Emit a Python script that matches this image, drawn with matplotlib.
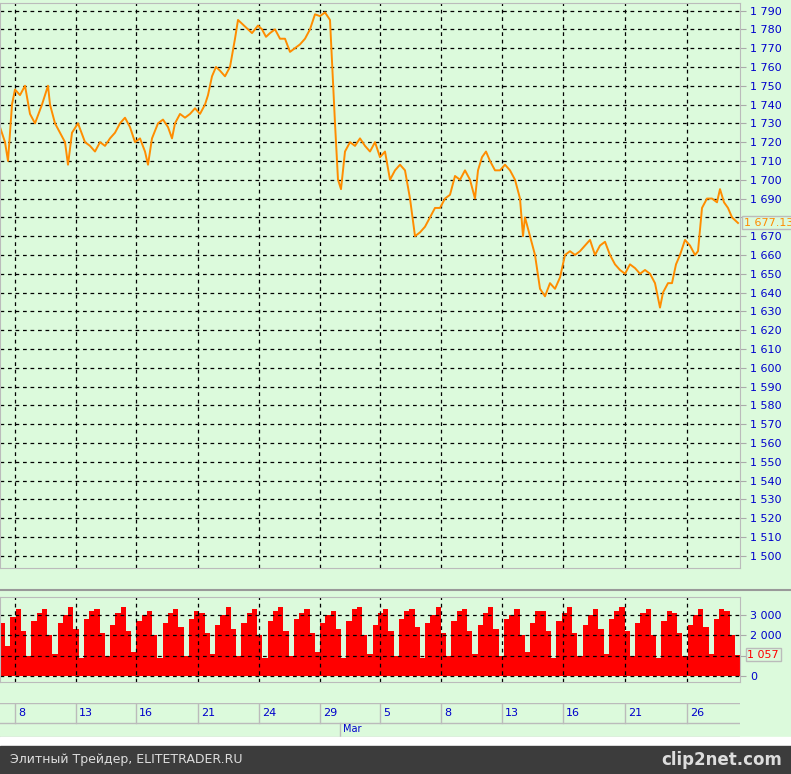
import matplotlib
matplotlib.use("Agg")
import matplotlib.pyplot as plt
import numpy as np

# price path (x in chart units, price)
px = [0,5,8,12,15,20,25,30,35,42,48,50,55,60,65,68,72,78,85,90,95,100,105,110,115,120,125,130,135,140,145,148,152,158,163,168,172,175,180,185,190,195,200,205,208,212,216,220,225,230,235,238,242,248,252,258,262,266,270,275,280,285,290,295,300,305,310,315,320,325,330,335,338,341,345,350,355,360,365,370,375,380,385,390,395,400,405,410,415,420,425,430,435,440,445,450,455,460,465,470,475,478,482,486,490,495,500,505,510,515,520,523,525,530,535,540,545,550,555,560,565,570,575,580,585,590,595,600,605,610,615,620,625,630,635,640,645,650,655,660,663,668,672,676,680,685,690,695,698,702,707,712,717,720,724,728,732,738]
py = [1728,1720,1710,1740,1748,1745,1750,1735,1730,1740,1750,1740,1730,1725,1720,1708,1725,1730,1720,1718,1715,1720,1718,1722,1725,1730,1733,1728,1720,1722,1715,1708,1722,1730,1732,1728,1722,1730,1735,1733,1735,1738,1735,1740,1745,1755,1760,1758,1755,1760,1775,1785,1783,1780,1778,1782,1780,1776,1778,1780,1775,1775,1768,1770,1772,1775,1780,1788,1787,1789,1785,1730,1700,1695,1715,1720,1718,1722,1718,1715,1720,1712,1715,1700,1705,1708,1705,1690,1670,1672,1675,1680,1685,1685,1690,1692,1702,1700,1705,1700,1690,1705,1712,1715,1710,1705,1705,1708,1705,1700,1690,1670,1680,1670,1660,1642,1638,1645,1642,1648,1660,1662,1660,1662,1665,1668,1660,1665,1667,1660,1655,1652,1650,1655,1653,1650,1652,1650,1645,1632,1640,1645,1645,1655,1660,1668,1665,1660,1662,1685,1690,1690,1688,1695,1688,1685,1680,1677]

# volume bars
vol = [2600,1500,2900,3300,2200,1000,2700,3100,3300,2000,1100,2600,3000,3400,2300,900,2800,3200,3300,2100,
       1000,2500,3100,3400,2200,1200,2700,3000,3200,2000,900,2600,3100,3300,2400,1000,2800,3200,3100,2100,
       1100,2500,3000,3400,2300,1000,2600,3100,3300,2000,900,2700,3200,3400,2200,1000,2800,3100,3300,2100,
       1200,2600,3000,3200,2300,900,2700,3300,3400,2000,1100,2500,3100,3300,2200,1000,2800,3200,3300,2400,
       900,2600,3000,3400,2100,1000,2700,3200,3300,2200,1100,2500,3100,3400,2300,1000,2800,3000,3300,2000,
       1200,2600,3200,3200,2200,900,2700,3100,3400,2100,1000,2500,3000,3300,2300,1100,2800,3200,3400,2200,
       1000,2600,3100,3300,2000,900,2700,3200,3100,2100,1000,2500,3000,3300,2400,1100,2800,3300,3200,2000,1057]

tick_pos = [15,76,136,198,259,320,380,441,502,563,625,687]
tick_lab = ["8","13","16","21","24","29","5","8","13","16","21","26"]
price_ticks = list(range(1500,1791,10))
vol_ticks = [0,1000,2000,3000]

BG = "#dcfadc"
W,H = 791,774
fig = plt.figure(figsize=(W/100,H/100),dpi=100)
fig.patch.set_facecolor(BG)
def fr(x0,y0,x1,y1): return [x0/W,1-y1/H,(x1-x0)/W,(y1-y0)/H]

ax = fig.add_axes(fr(0,3,740,568))
ax.set_facecolor(BG)
ax.plot(px,py,color="#ff8c00",lw=1.4)
ax.set_xlim(0,740); ax.set_ylim(1493.5,1794)
ax.set_yticks(price_ticks)
ax.set_yticklabels(["" if v==1680 else f"{v:,}".replace(","," ") for v in price_ticks],color="#0000cc",fontsize=8)
ax.yaxis.tick_right()
ax.set_xticks(tick_pos); ax.set_xticklabels([])
ax.grid(True,color="black",ls=(0,(3,3)),lw=0.9)
ax.tick_params(axis="x",length=0)
ax.tick_params(axis="y",length=4,color="#aaaaaa")
for s in ax.spines.values(): s.set_color("#bbbbbb")
ax.text(1.005,(1677.13-1493.5)/(1794-1493.5),"1 677.13",transform=ax.transAxes,color="#ff8c00",fontsize=8,va="center",
        bbox=dict(boxstyle="square,pad=0.15",fc=BG,ec="#bbbbbb"),clip_on=False)

fig.add_artist(plt.Line2D([0,1],[1-590/H,1-590/H],color="#999999",lw=1.5))

av = fig.add_axes(fr(0,597,740,682))
av.set_facecolor(BG)
bw = 740/len(vol)
vx = np.arange(len(vol))*bw+bw/2
av.bar(vx,vol,width=bw,color="red",linewidth=0)
av.set_xlim(0,740); av.set_ylim(-300,3900)
av.set_yticks(vol_ticks)
av.set_yticklabels(["0","","2 000","3 000"],color="#0000cc",fontsize=8)
av.yaxis.tick_right()
av.set_xticks(tick_pos); av.set_xticklabels([])
av.grid(True,color="black",ls=(0,(3,3)),lw=0.9)
av.tick_params(axis="x",length=0); av.tick_params(axis="y",length=4,color="#aaaaaa")
for s in av.spines.values(): s.set_color("#bbbbbb")
av.text(1.01,(1057+300)/4200,"1 057",transform=av.transAxes,color="red",fontsize=8,va="center",
        bbox=dict(boxstyle="square,pad=0.15",fc=BG,ec="#bbbbbb"),clip_on=False)

# date strip
ad = fig.add_axes(fr(0,703,740,737))
ad.set_facecolor(BG); ad.set_xlim(0,740); ad.set_ylim(0,2)
ad.set_xticks([]); ad.set_yticks([])
for s in ad.spines.values(): s.set_visible(False)
ad.axhline(2,color="#bbbbbb",lw=1); ad.axhline(0.85,color="#bbbbbb",lw=1); ad.axhline(0.02,color="#bbbbbb",lw=1)
for p,l in zip(tick_pos,tick_lab):
    ad.plot([p,p],[0.85,2],color="#bbbbbb",lw=1)
    ad.text(p+3,1.42,l,color="#0000cc",fontsize=8,va="center")
ad.plot([340,340],[0,0.85],color="#bbbbbb",lw=1)
ad.text(343,0.45,"Mar",color="#0000cc",fontsize=7,va="center")

fig.add_artist(plt.Rectangle((0,28/H),1,9/H,color="white",transform=fig.transFigure))
fig.add_artist(plt.Rectangle((0,0),1,28/H,color="#3c3c3c",transform=fig.transFigure))
fig.text(10/W,14/H,"Элитный Трейдер, ELITETRADER.RU",color="#dddddd",fontsize=9,va="center")
fig.text(782/W,14/H,"clip2net.com",color="#dddddd",fontsize=12,weight="bold",va="center",ha="right")
fig.savefig("out.png",dpi=100,facecolor=BG)
